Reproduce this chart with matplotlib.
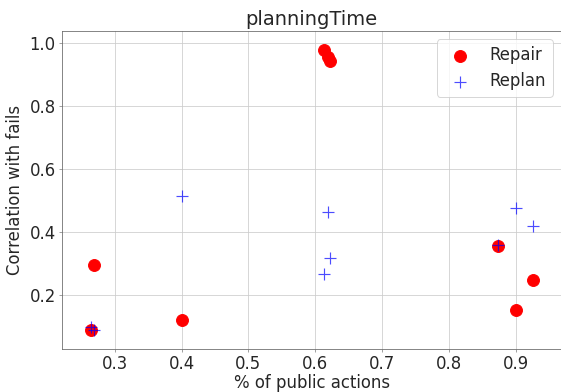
import matplotlib
matplotlib.use("Agg")
import matplotlib.pyplot as plt

repair_x = [0.264, 0.269, 0.400, 0.613, 0.619, 0.622, 0.873, 0.900, 0.926]
repair_y = [0.089, 0.295, 0.121, 0.978, 0.956, 0.943, 0.356, 0.152, 0.248]
replan_x = [0.264, 0.269, 0.400, 0.619, 0.622, 0.613, 0.873, 0.900, 0.926]
replan_y = [0.100, 0.089, 0.514, 0.463, 0.317, 0.267, 0.360, 0.476, 0.418]

TXT = "#262626"
DPI = 70
fig = plt.figure(figsize=(561 / DPI, 392 / DPI), dpi=DPI)
ax = fig.add_axes([62 / 561, 43 / 392, 499 / 561, 318 / 392])
ax.scatter(repair_x, repair_y, s=150, c="red", marker="o", label="Repair", zorder=3)
ax.scatter(replan_x, replan_y, s=170, c="blue", marker="+", linewidths=1.2, alpha=0.7,
           label="Replan", zorder=4)
ax.set_xlim(0.221, 0.968)
ax.set_ylim(0.0286, 1.038)
ax.set_title("planningTime", fontsize=20, color=TXT)
ax.set_xlabel("% of public actions", fontsize=17, color=TXT, labelpad=1)
ax.set_ylabel("Correlation with fails", fontsize=17, color=TXT, labelpad=6)
ax.set_xticks([0.3, 0.4, 0.5, 0.6, 0.7, 0.8, 0.9])
ax.set_yticks([0.2, 0.4, 0.6, 0.8, 1.0])
ax.tick_params(labelsize=17, labelcolor=TXT, color="#888888", length=3)
for s in ax.spines.values():
    s.set_color("#666666")
ax.grid(True, color="#cccccc")
ax.set_axisbelow(True)
leg = ax.legend(loc="upper right", fontsize=17, labelcolor=TXT)
fig.savefig("out.png", dpi=DPI)
